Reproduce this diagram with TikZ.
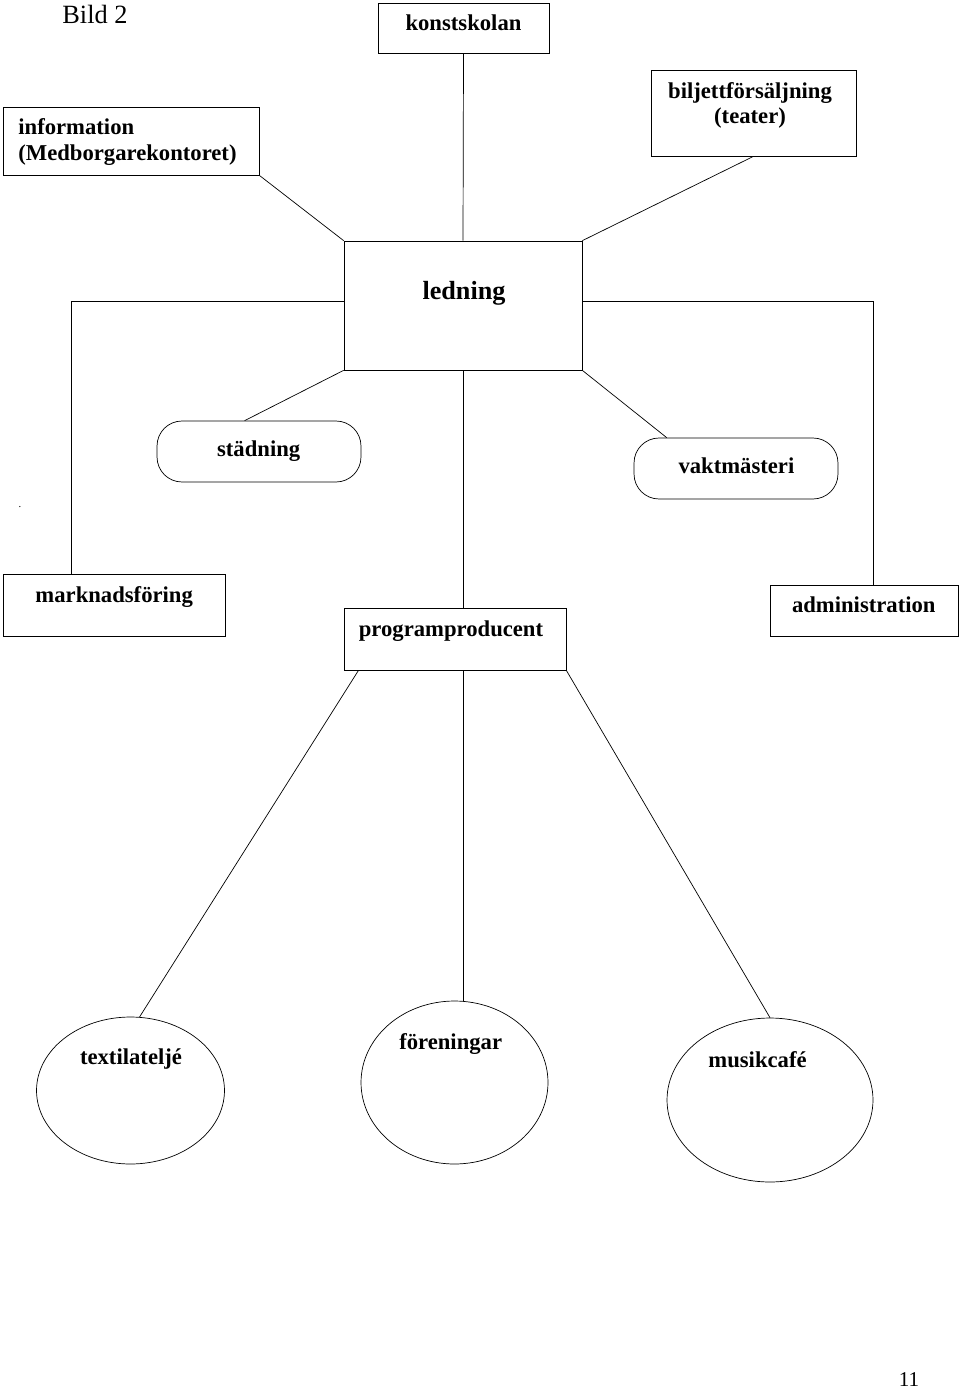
\documentclass[tikz,border=0pt]{standalone}
\usepackage{fontspec}
\setmainfont{Liberation Serif}
\usetikzlibrary{shapes.geometric}
\tikzset{
	line width = 1pt,
	font = \fontsize{12.9}{14.7}\selectfont\bfseries,
	box/.style={
		draw,
		rectangle,
		inner sep=0pt
	},
	pill/.style={
		draw,
		rectangle,
		rounded corners=.5cm,
		inner sep=0pt,
		minimum width=4.08cm,
		minimum height=1.22cm
	},
	blob/.style={
		draw,
		ellipse,
		inner sep=0pt
	},
	txt/.style={
		anchor=base,
		inner sep=0pt
	}
}

\begin{document}
\begin{tikzpicture}[x=.02cm, y=-.02cm]
		\useasboundingbox (0,0) rectangle (960,1389);
		% top row
		\node[box, minimum width=3.42cm, minimum height=1cm] at (463.5,28) (konst) {};
		\node[box, minimum width=5.12cm, minimum height=1.36cm] at (131,141) (info) {};
		\node[box, minimum width=4.1cm, minimum height=1.72cm] at (753.5,113) (bilj) {};
		\node[box, minimum width=4.76cm, minimum height=2.58cm] at (463,305.5) (ledning) {};
		% middle
		\node[pill] at (259,451.5) (stad) {};
		\node[pill] at (736,468.5) (vakt) {};
		\node[box, minimum width=4.44cm, minimum height=1.24cm] at (114,605) (mark) {};
		\node[box, minimum width=4.44cm, minimum height=1.24cm] at (455,639) (prog) {};
		\node[box, minimum width=3.76cm, minimum height=1.02cm] at (864,610.5) (adm) {};
		% bottom row
		\node[blob, minimum width=3.76cm, minimum height=2.94cm] at (130.5,1090.5) (textil) {};
		\node[blob, minimum width=3.74cm, minimum height=3.26cm] at (454.5,1082.5) (foren) {};
		\node[blob, minimum width=4.12cm, minimum height=3.28cm] at (770,1100) (musik) {};
		% texts
		\node[txt, anchor=base west, font=\fontsize{15}{18}\selectfont] at (62,23.3) (bild) {Bild 2};
		\node[txt] at (463.5,30.5) (konst-t) {konstskolan};
		\node[txt, anchor=base west, align=left] at (18,160.5) (info-t) {information\\(Medborgarekontoret)};
		\node[txt, align=center] at (750,124) (bilj-t) {biljettförsäljning\\(teater)};
		\node[txt, font=\fontsize{14.9}{17}\selectfont\bfseries] at (464,299) (ledning-t) {ledning};
		\node[txt] at (258.7,456.7) (stad-t) {städning};
		\node[txt] at (736.4,473.3) (vakt-t) {vaktmästeri};
		\node[txt, font=\fontsize{6}{6}\selectfont] at (20,507) (dot) {.};
		\node[txt] at (114.2,602.3) (mark-t) {marknadsföring};
		\node[txt] at (451,636) (prog-t) {programproducent};
		\node[txt] at (863.8,612.3) (adm-t) {administration};
		\node[txt] at (131,1064.3) (textil-t) {textilateljé};
		\node[txt] at (450.7,1049.3) (foren-t) {föreningar};
		\node[txt] at (757.5,1067.3) (musik-t) {musikcafé};
		\node[txt, font=\fontsize{12}{14}\selectfont] at (909,1386.7) (pnum) {11};
		% connectors
		\draw (konst.south) -- (ledning.north);
		\draw (info.south east) -- (ledning.north west);
		\draw (bilj.south) -- (ledning.north east);
		\draw (ledning.south west) -- (stad.115);
		\draw (ledning.south east) -- (vakt.156);
		\draw (ledning.178) -| (mark.144);
		\draw (ledning.2) -| (adm.71);
		\draw (ledning.south) -- (ledning.south |- prog.north);
		\draw (prog.198) -- (textil.83);
		\draw (ledning.south |- prog.south) -- (ledning.south |- foren.north);
		\draw (prog.south east) -- (musik.north);
	\end{tikzpicture}
\end{document}
